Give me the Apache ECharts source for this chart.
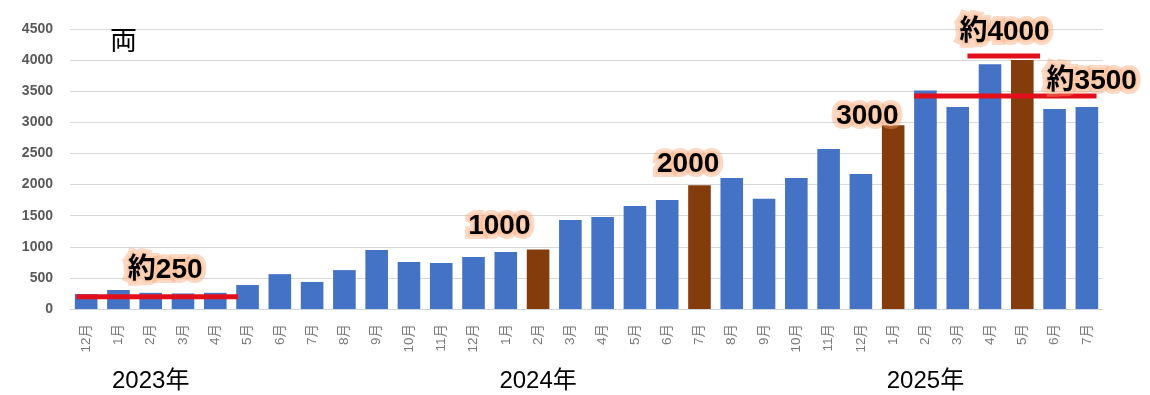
<!DOCTYPE html>
<html><head><meta charset="utf-8">
<script src="https://cdn.jsdelivr.net/npm/echarts@6/dist/echarts.min.js"></script>
<style>html,body{margin:0;padding:0;background:#fff}#c{width:1150px;height:395px}</style>
</head><body><div id="c"></div>
<script>
const months = ['12月','1月','2月','3月','4月','5月','6月','7月','8月','9月','10月','11月',
  '12月','1月','2月','3月','4月','5月','6月','7月','8月','9月','10月','11月',
  '12月','1月','2月','3月','4月','5月','6月','7月'];
const values = [240,305,260,250,260,385,560,435,625,950,755,740,
  835,915,955,1430,1480,1655,1750,1990,2105,1770,2105,2570,
  2170,2955,3510,3245,3935,4000,3215,3245];
const highlighted = [14,19,25,29];
const yearLabels = [{index:2,text:'2023年'},{index:14,text:'2024年'},{index:26,text:'2025年'}];
const refLines = [
  {from:-0.3,to:4.7,y:195},
  {from:27.3,to:29.55,y:4065},
  {from:25.65,to:31.3,y:3425}
];
const notes = [
  {x:2.45,y:630,text:'約250'},
  {x:12.8,y:1330,text:'1000'},
  {x:18.65,y:2330,text:'2000'},
  {x:24.2,y:3100,text:'3000'},
  {x:28.45,y:4440,text:'約4000'},
  {x:31.15,y:3665,text:'約3500'}
];
const unitLabel = '両';
const yTicks = {min:0,max:4500,interval:500};

const chart = echarts.init(document.getElementById('c'));
const FONT = '"Liberation Sans","Noto Sans CJK JP",sans-serif';
const yearMap = {};
yearLabels.forEach(y => yearMap[y.index] = y.text);

const series = [{
  type:'bar', xAxisIndex:0, yAxisIndex:0, barWidth:'70%',
  data: values.map((v,i)=>({value:v,itemStyle:{color: highlighted.includes(i)?'#843c0c':'#4472c4'}})),
  z:2
}];
refLines.forEach(l=>series.push({
  type:'line', xAxisIndex:1, yAxisIndex:0, symbol:'none', silent:true, z:5,
  lineStyle:{color:'#e3101b',width:5}, data:[[l.from,l.y],[l.to,l.y]]
}));

chart.setOption({
  animation:false,
  backgroundColor:'#fff',
  grid:{left:70,right:47,top:29,bottom:86},
  xAxis:[
    {type:'category',data:months,boundaryGap:true,
     axisLine:{lineStyle:{color:'#d0d5de',width:1}},axisTick:{show:false},
     axisLabel:{interval:0,rotate:90,color:'#7a7a7a',fontSize:13.5,fontFamily:FONT,margin:15}},
    {type:'value',min:-0.5,max:31.5,show:false},
    {type:'category',data:months,position:'bottom',boundaryGap:true,
     axisLine:{show:false},axisTick:{show:false},splitLine:{show:false},
     axisLabel:{interval:0,margin:60,color:'#000',fontSize:24,fontFamily:FONT,
       formatter:(v,i)=>yearMap[i]||''}}
  ],
  yAxis:{type:'value',min:yTicks.min,max:yTicks.max,interval:yTicks.interval,
    axisLine:{show:false},axisTick:{show:false},
    splitLine:{lineStyle:{color:'#d9d9d9',width:1}},
    axisLabel:{color:'#595959',fontWeight:'bold',fontSize:14,fontFamily:FONT,margin:17,
      formatter:v=>String(v)}},
  series
});

const graphics = [{type:'text',left:110,top:29,z:100,
  style:{text:unitLabel,fontSize:27,fontFamily:FONT,fill:'#000'}}];
notes.forEach(n=>{
  const p = chart.convertToPixel({xAxisIndex:1,yAxisIndex:0},[n.x,n.y]);
  const common = {text:n.text,font:'bold 28px '+FONT,align:'center',verticalAlign:'middle'};
  graphics.push({type:'text',x:p[0],y:p[1],z:99,silent:true,
    style:Object.assign({},common,{fill:'rgba(248,160,110,0.6)',stroke:'rgba(248,160,110,0.4)',lineWidth:10,
      shadowColor:'rgba(245,130,70,0.9)',shadowBlur:16})});
  graphics.push({type:'text',x:p[0],y:p[1],z:100,silent:true,
    style:Object.assign({},common,{fill:'rgba(252,205,175,0.85)',stroke:'rgba(252,200,165,0.8)',lineWidth:4})});
  graphics.push({type:'text',x:p[0],y:p[1],z:101,silent:true,
    style:Object.assign({},common,{fill:'#000'})});
});
chart.setOption({graphic:graphics});
</script></body></html>
